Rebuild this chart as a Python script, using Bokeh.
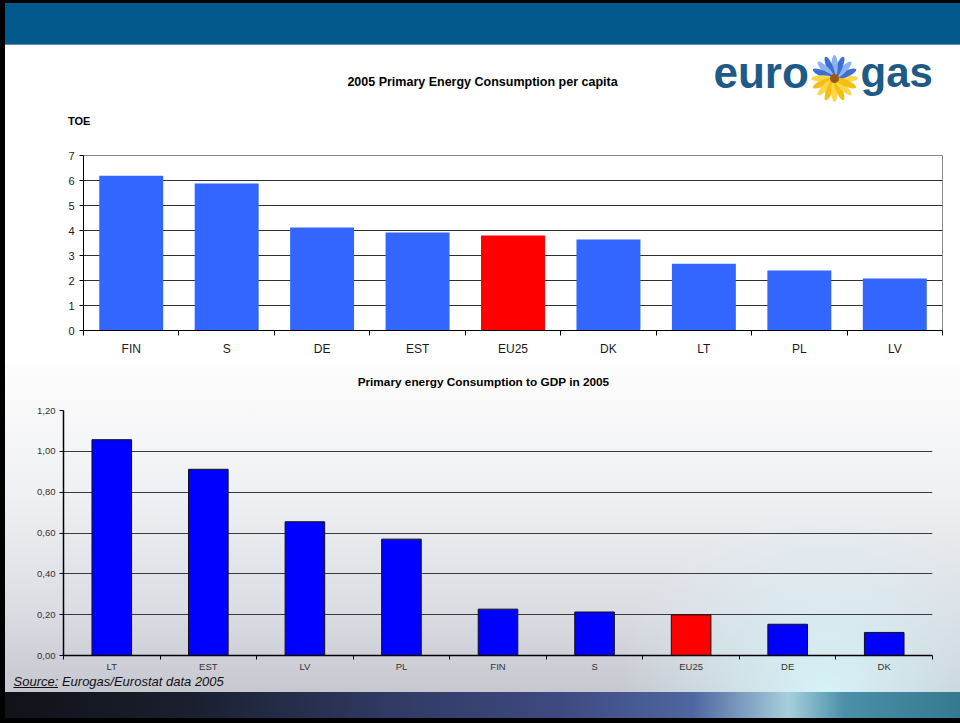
import numpy as np
from bokeh.plotting import figure
from bokeh.models import Range1d, FixedTicker, CustomJSTickFormatter, Spacer
from bokeh.layouts import column, row
from bokeh.embed import file_html
from bokeh.resources import INLINE
from bokeh.core.properties import value

# ---------------- data ----------------
top_title = "2005 Primary Energy Consumption per capita"
top_unit = "TOE"
top_categories = ["FIN", "S", "DE", "EST", "EU25", "DK", "LT", "PL", "LV"]
top_values = [6.19, 5.88, 4.12, 3.92, 3.80, 3.64, 2.67, 2.40, 2.08]
top_ticks = [0, 1, 2, 3, 4, 5, 6, 7]

bottom_title = "Primary energy Consumption to GDP in 2005"
bottom_categories = ["LT", "EST", "LV", "PL", "FIN", "S", "EU25", "DE", "DK"]
bottom_values = [1.057, 0.912, 0.655, 0.570, 0.227, 0.213, 0.199, 0.153, 0.113]
bottom_ticks = [0.0, 0.2, 0.4, 0.6, 0.8, 1.0, 1.2]

highlight = "EU25"
source_label = "Source:"
source_text = "Eurogas/Eurostat data 2005"
logo_left = "euro"
logo_right = "gas"

FONT = "Liberation Sans"
W = 955


def bare(w, h, x0, x1, y0, y1):
    p = figure(width=w, height=h, x_range=Range1d(x0, x1), y_range=Range1d(y0, y1),
               output_backend="svg", toolbar_location=None, min_border=0,
               x_axis_location=None, y_axis_location=None)
    p.grid.visible = False
    p.outline_line_color = None
    return p


def label(p, x, y, txt, size, style="normal", color="black", align="left"):
    p.text(x=[x], y=[y], text=[txt], text_font=value(FONT), text_font_style=style,
           text_font_size=size, text_align=align, text_baseline="middle", text_color=color)


# ---------------- title band (page y 45..140) ----------------
band = bare(W, 95, 5, 960, 140, 45)
label(band, 482, 81.3, top_title, "12.5px", "bold", align="center")
label(band, 67.5, 120.3, top_unit, "11px", "bold")
label(band, 713, 72, logo_left, "44px", "bold", color="#1e5a87")
label(band, 860, 72, logo_right, "42px", "bold", color="#1e5a87")
# flower of the logo
cx, cy = 834, 78
ang = np.deg2rad(np.arange(0, 360, 22.5))
px = cx + 12 * np.cos(ang)
py = cy - 12 * np.sin(ang)
pcols = []
for k, a in enumerate(ang):
    if np.sin(a) > 0.01:
        pcols.append("#3d6fd6" if k % 2 else "#8db3ef")
    else:
        pcols.append("#f4be12" if k % 2 else "#fbd64a")
band.ellipse(x=px, y=py, width=23, height=6.5, angle=ang, fill_color=pcols, line_color=None)
band.circle(x=[cx], y=[cy], radius=4.5, fill_color="#9a5a12", line_color=None)

# ---------------- top chart (page y 140..365) ----------------
tp = figure(width=W, height=225, x_range=Range1d(0, len(top_categories)), y_range=Range1d(0, 7),
            output_backend="svg", toolbar_location=None,
            min_border_left=78, min_border_right=18, min_border_top=15, min_border_bottom=35)
tx = [i + 0.5 for i in range(len(top_categories))]
tcol = ["#ff0000" if c == highlight else "#3366ff" for c in top_categories]
tp.vbar(x=tx, top=top_values, bottom=0, width=0.67, fill_color=tcol, line_color=None)
tp.xaxis.ticker = FixedTicker(ticks=tx, minor_ticks=list(range(len(top_categories) + 1)))
tp.xaxis.major_label_overrides = {x: c for x, c in zip(tx, top_categories)}
tp.xaxis.major_tick_line_color = None
tp.xaxis.major_tick_out = 0
tp.xaxis.major_tick_in = 0
tp.xaxis.minor_tick_in = 0
tp.xaxis.minor_tick_out = 5
tp.xaxis.minor_tick_line_color = "black"
tp.xaxis.axis_line_color = "black"
tp.xaxis.major_label_text_font = FONT
tp.xaxis.major_label_text_font_size = "12px"
tp.xaxis.major_label_text_color = "#1a1a1a"
tp.xaxis.major_label_standoff = 6
tp.yaxis.ticker = FixedTicker(ticks=top_ticks)
tp.yaxis.major_tick_in = 0
tp.yaxis.major_tick_out = 4
tp.yaxis.major_tick_line_color = "black"
tp.yaxis.minor_tick_line_color = None
tp.yaxis.axis_line_color = "black"
tp.yaxis.major_label_text_font = FONT
tp.yaxis.major_label_text_font_size = "11px"
tp.yaxis.major_label_text_color = "#1a1a1a"
tp.yaxis.major_label_standoff = 5
tp.xgrid.visible = False
tp.ygrid.grid_line_color = "#303030"
tp.outline_line_color = "#8a8a8a"
tp.background_fill_color = "white"
tp.border_fill_color = "white"

# ---------------- bottom title strip (page y 365..400) ----------------
btitle = bare(W, 35, 5, 960, 400, 365)
btitle.background_fill_alpha = 0
btitle.border_fill_alpha = 0
label(btitle, 483, 381, bottom_title, "11.8px", "bold", align="center")

# ---------------- bottom chart (page y 400..674) ----------------
bp = figure(width=W, height=274, x_range=Range1d(0, len(bottom_categories)), y_range=Range1d(0, 1.2),
            output_backend="svg", toolbar_location=None,
            min_border_left=58, min_border_right=28, min_border_top=10, min_border_bottom=19)
bx = [i + 0.5 for i in range(len(bottom_categories))]
bcol = ["#ff0000" if c == highlight else "#0000ff" for c in bottom_categories]
bp.vbar(x=bx, top=bottom_values, bottom=0, width=0.41, fill_color=bcol, line_color="#111111", line_width=1)
bp.xaxis.ticker = FixedTicker(ticks=bx, minor_ticks=list(range(len(bottom_categories) + 1)))
bp.xaxis.major_label_overrides = {x: c for x, c in zip(bx, bottom_categories)}
bp.xaxis.major_tick_line_color = None
bp.xaxis.major_tick_out = 0
bp.xaxis.major_tick_in = 0
bp.xaxis.minor_tick_in = 0
bp.xaxis.minor_tick_out = 4
bp.xaxis.minor_tick_line_color = "black"
bp.xaxis.axis_line_color = "black"
bp.xaxis.axis_line_width = 1.5
bp.xaxis.major_label_text_font = FONT
bp.xaxis.major_label_text_font_size = "9.5px"
bp.xaxis.major_label_text_color = "#333333"
bp.xaxis.major_label_standoff = 1
bp.yaxis.ticker = FixedTicker(ticks=bottom_ticks)
bp.yaxis.formatter = CustomJSTickFormatter(code="return tick.toFixed(2).replace('.', ',');")
bp.yaxis.major_tick_in = 0
bp.yaxis.major_tick_out = 4
bp.yaxis.major_tick_line_color = "black"
bp.yaxis.minor_tick_line_color = None
bp.yaxis.axis_line_color = "black"
bp.yaxis.axis_line_width = 1.5
bp.yaxis.major_label_text_font = FONT
bp.yaxis.major_label_text_font_size = "9.5px"
bp.yaxis.major_label_text_color = "#333333"
bp.yaxis.major_label_standoff = 4
bp.xgrid.visible = False
bp.ygrid.grid_line_color = "#3a3a3a"
bp.outline_line_color = None
bp.background_fill_alpha = 0
bp.border_fill_alpha = 0

# ---------------- source strip (page y 674..692) ----------------
src = bare(W, 18, 5, 960, 692, 674)
src.background_fill_alpha = 0
src.border_fill_alpha = 0
label(src, 13, 680.5, source_label + " " + source_text, "13px", "italic", color="#111111")
src.segment(x0=[13], y0=[687], x1=[57.5], y1=[687], line_color="#111111", line_width=1)

bottom_bg = ("radial-gradient(ellipse 22% 55% at 86% 100%, rgba(215,245,250,0.95) 0%, rgba(215,245,250,0) 100%), "
             "linear-gradient(to bottom, #fdfdfd 0%, #eff0f3 40%, #dcdde3 75%, #c6c7cf 100%)")
bottom_sec = column(row(btitle), row(bp), row(src), styles={"background": bottom_bg})

footer_bg = ("linear-gradient(to right, #101217 0%, #1b2031 20%, #303a63 40%, #3d4a80 58%, "
             "#4f66a0 72%, #a6cfdc 82%, #4b8fa8 88%, #357a90 100%)")

main = column(
    Spacer(width=W, height=3, styles={"background": "#000000"}),
    Spacer(width=W, height=41, styles={"background": "#03588c"}),
    Spacer(width=W, height=1, styles={"background": "#5b8fba"}),
    row(band),
    row(tp),
    bottom_sec,
    Spacer(width=W, height=26, styles={"background": footer_bg}),
    Spacer(width=W, height=5, styles={"background": "#000000"}),
)
root = row(Spacer(width=5, height=723, styles={"background": "#000000"}), main)

open("out.html", "w").write(file_html(root, INLINE))
